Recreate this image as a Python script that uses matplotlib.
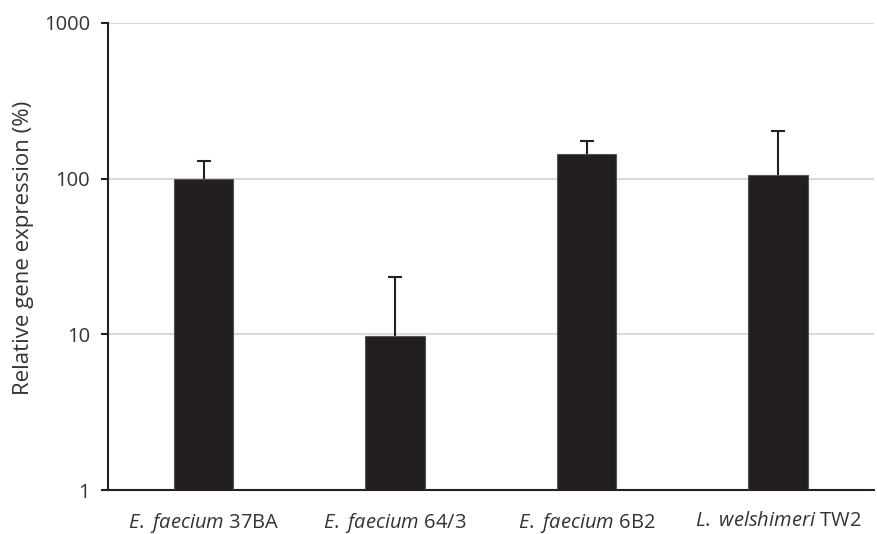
import matplotlib.pyplot as plt
import numpy as np

plt.rcParams['font.family'] = ['Open Sans', 'DejaVu Sans']
plt.rcParams['mathtext.fontset'] = 'custom'
plt.rcParams['mathtext.rm'] = 'Open Sans'
plt.rcParams['mathtext.it'] = 'Open Sans:italic'

# data
species = [r"$\mathit{E.}$ $\mathit{faecium}$ 37BA", r"$\mathit{E.}$ $\mathit{faecium}$ 64/3",
           r"$\mathit{E.}$ $\mathit{faecium}$ 6B2", r"$\mathit{L.}$ $\mathit{welshimeri}$ TW2"]
expression = [100, 9.8, 144, 105]
upper = [130, 23.3, 175, 203]

fig = plt.figure(figsize=(8.78, 5.34), dpi=100)
ax = fig.add_axes([0.123, 0.082, 0.872, 0.875])

x = np.arange(len(species))
ax.bar(x, expression, width=0.31, color='#231f20', edgecolor='#555555',
       linewidth=0.8, zorder=3)
# upward-only error bars
ax.vlines(x, expression, upper, color='#231f20', linewidth=1.5, zorder=4)
ax.scatter(x, upper, marker='_', s=110, linewidths=1.5, color='#231f20', zorder=4)

ax.set_yscale('log')
ax.set_ylim(1, 1000)
ax.set_xlim(-0.5, len(species) - 0.5)
ax.set_yticks([1, 10, 100, 1000])
ax.set_yticklabels(['1', '10', '100', '1000'])
ax.minorticks_off()
ax.set_xticks(x)
ax.set_xticklabels(species)

ax.grid(axis='y', color='#d9d9d9', linewidth=1.5, zorder=0)
ax.spines['top'].set_visible(False)
ax.spines['right'].set_visible(False)
for s in ['left', 'bottom']:
    ax.spines[s].set_linewidth(1.5)
    ax.spines[s].set_color('#231f20')

ax.tick_params(axis='y', length=5, width=1.5, colors='#231f20',
               labelcolor='#333333', labelsize=14.5, pad=8)
ax.tick_params(axis='x', length=0, labelcolor='#333333', labelsize=14.5, pad=15)

ax.set_ylabel("Relative gene expression (%)", fontsize=16, color='#333333')
ax.yaxis.set_label_coords(-0.097, 0.518)

plt.savefig("out.png", dpi=100)
